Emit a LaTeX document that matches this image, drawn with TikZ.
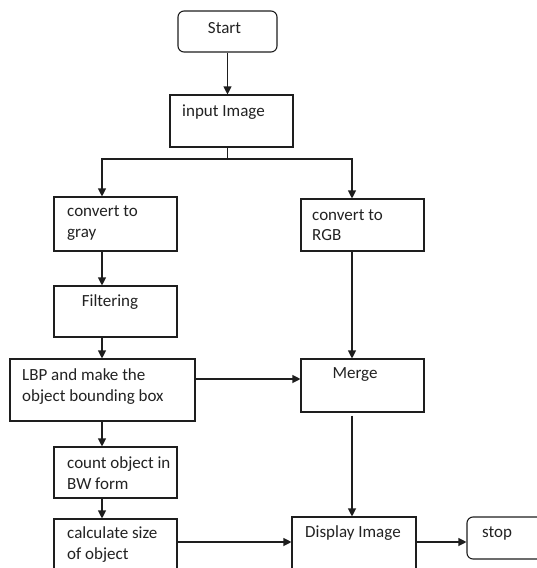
\documentclass[tikz,border=0pt]{standalone}
\usepackage{fontspec}
\setmainfont{Carlito}
\usetikzlibrary{arrows.meta}
\definecolor{linec}{HTML}{1E1E1E}
\definecolor{textc}{HTML}{222222}
\begin{document}
\begin{tikzpicture}[x=1pt,y=-1pt,
  box/.style={draw=linec, line width=1.1pt, inner sep=0pt, fill=white},
  rbox/.style={box, rounded corners=6pt},
  txt/.style={inner sep=0pt, anchor=west, align=left, text=textc, font=\fontsize{17}{20.5}\selectfont},
  ctxt/.style={txt, anchor=center},
  conn/.style={draw=linec, line width=1.1pt},
  arr/.style={conn, -{Triangle[length=8pt,width=8pt]}}]
\useasboundingbox (0,0) rectangle (537,568);
\clip (0,0) rectangle (537,568);
% boxes
\node[rbox, minimum width=99pt, minimum height=41pt] (start) at (227.5,31.5) {};
\node[box, minimum width=123pt, minimum height=52pt] (inp) at (231.5,121) {};
\node[box, minimum width=123pt, minimum height=54pt] (gray) at (115.5,224) {};
\node[box, minimum width=123pt, minimum height=52pt] (rgb) at (362.5,225) {};
\node[box, minimum width=123pt, minimum height=51pt] (filt) at (115.5,311.5) {};
\node[box, minimum width=185pt, minimum height=62pt] (lbp) at (102.5,390) {};
\node[box, minimum width=123pt, minimum height=53pt] (merge) at (362.5,385.5) {};
\node[box, minimum width=123pt, minimum height=51pt] (count) at (115.5,472.5) {};
\node[box, minimum width=123pt, minimum height=56pt] (calc) at (115.5,547) {};
\node[box, minimum width=124pt, minimum height=58pt] (disp) at (354,546) {};
\node[rbox, minimum width=130pt, minimum height=42pt] (stop) at (532,538) {};
% texts
\node[ctxt] (tstart) at (224.5,28) {Start};
\node[txt] (tinp) at (182,112) {input Image};
\node[txt] (tgray) at (67,223) {convert to\\gray};
\node[txt] (trgb) at (312,225) {convert to\\RGB};
\node[ctxt] (tfilt) at (110,302) {Filtering};
\node[txt] (tlbp) at (22,386.5) {LBP and make the\\object bounding box};
\node[ctxt] (tmerge) at (355,375) {Merge};
\node[txt] (tcount) at (67,473) {count object in\\BW form};
\node[txt] (tcalc) at (67,544.5) {calculate size\\of object};
\node[txt] (tdisp) at (305,533) {Display Image};
\node[txt] (tstop) at (482,533) {stop};
% helper coordinates
\coordinate (lx) at (102,159);
\coordinate (rx) at (352,159);
\coordinate (m1) at (0,379);
\coordinate (m2) at (0,542);
% connectors
\draw[arr] (start.south) -- (start.south |- inp.north);
\draw[conn] (start.south |- inp.south) -- (start.south |- lx);
\draw[arr] (start.south |- lx) -- (lx) -- (lx |- gray.north);
\draw[arr] (start.south |- lx) -- (rx) -- (rx |- rgb.north);
\draw[arr] (lx |- gray.south) -- (lx |- filt.north);
\draw[arr] (lx |- filt.south) -- (lx |- lbp.north);
\draw[arr] (lx |- lbp.south) -- (lx |- count.north);
\draw[arr] (lx |- count.south) -- (lx |- calc.north);
\draw[arr] (rx |- rgb.south) -- (rx |- merge.north);
\draw[arr] (lbp.east |- m1) -- (merge.west |- m1);
\draw[arr] ([yshift=-3pt]rx |- merge.south) -- (rx |- disp.north);
\draw[arr] (calc.east |- m2) -- (disp.west |- m2);
\draw[arr] (disp.east |- m2) -- (stop.west |- m2);
\end{tikzpicture}
\end{document}
